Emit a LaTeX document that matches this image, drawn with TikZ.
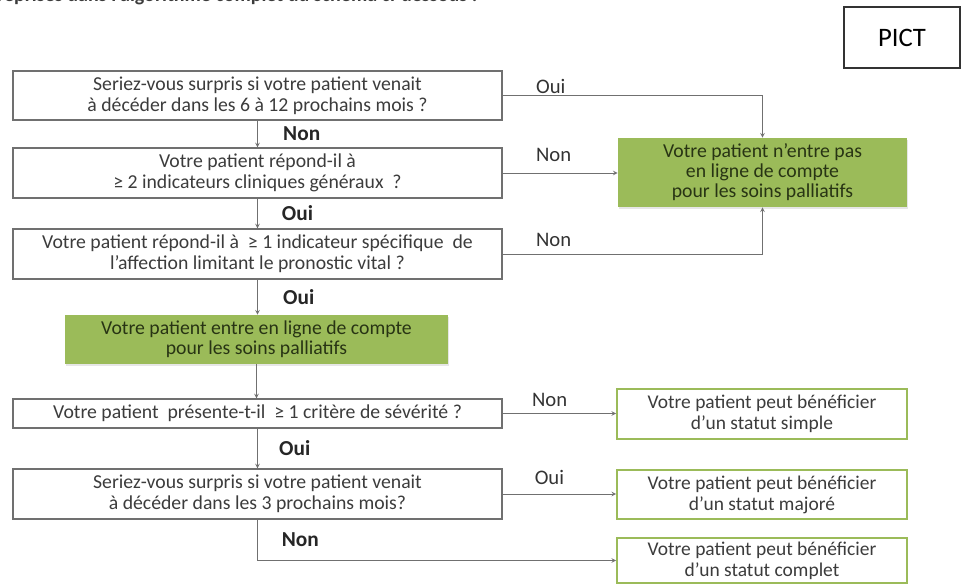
\documentclass[tikz,border=0pt]{standalone}
\usepackage{fontspec}
\setmainfont{Carlito}
\usepackage{tikz}
\usetikzlibrary{arrows,shapes,positioning,shadows}
\definecolor{pcgray}{RGB}{112,112,112}
\definecolor{pcgreen}{RGB}{155,187,89}
\definecolor{pctext}{RGB}{60,60,60}
\definecolor{pcdark}{RGB}{40,52,20}
\tikzstyle{question} = [rectangle, minimum width=366.75pt, minimum height=37.5pt, align=center, draw=pcgray, fill=white, thick, text=pctext, inner sep=0pt, font=\fontsize{14.8}{15.75}\selectfont]
\tikzstyle{verdict} = [rectangle, align=center, fill=pcgreen, text=pcdark, inner sep=0pt, drop shadow={opacity=0.2, shadow xshift=1pt, shadow yshift=-1.5pt}, font=\fontsize{14.8}{15}\selectfont]
\tikzstyle{statut} = [rectangle, minimum width=217.5pt, minimum height=37.5pt, align=center, draw=pcgreen, very thick, fill=white, text=pctext, inner sep=0pt, font=\fontsize{14.6}{15.75}\selectfont]
\tikzstyle{arrow} = [semithick,->,>=stealth,color=pcgray]
\tikzstyle{answer} = [text=black!85, inner sep=1pt, font=\fontsize{16}{18}\selectfont\bfseries]
\tikzstyle{sideanswer} = [text=black!80, inner sep=0pt, font=\fontsize{15.5}{17}\selectfont]

\begin{document}
\begin{tikzpicture}[x=0.75pt, y=-0.75pt]
\useasboundingbox (0,0) rectangle (961,585);

% Cut-off heading and label
\node (heading) [anchor=base east, text=pctext, font=\fontsize{15}{17}\selectfont\bfseries] at (482,2) {reprises dans l’algorithme complet du schéma ci-dessous :};
\node (pict) [draw=black!80, thick, minimum width=87pt, minimum height=45.75pt, font=\fontsize{20}{24}\selectfont] at (902,37.5) {PICT};

% Questions
\node (surpris) [question, minimum height=36.75pt] at (257.5,95.5) {Seriez-vous surpris si votre patient venait\\à décéder dans les 6 à 12 prochains mois ?};
\node (generaux) [question] at (257.5,173) {Votre patient répond-il à\\≥ 2 indicateurs cliniques généraux\ \ ?};
\node (specifique) [question] at (257.5,254) {Votre patient répond-il à\ \ ≥ 1 indicateur spécifique\ \ de\\l’affection limitant le pronostic vital ?};
\node (entre) [verdict, minimum width=287.25pt, minimum height=36.75pt] at (256.5,339.5) {Votre patient entre en ligne de compte\\pour les soins palliatifs};
\node (severite) [question, minimum height=21.75pt] at (257.5,413.5) {Votre patient\ \ présente-t-il\ \ ≥ 1 critère de sévérité ?};
\node (troismois) [question] at (257.5,494) {Seriez-vous surpris si votre patient venait\\à décéder dans les 3 prochains mois?};

% Outcomes
\node (pasentre) [verdict, minimum width=216.75pt, minimum height=51.75pt] at (762.5,172.5) {Votre patient n’entre pas\\en ligne de compte\\pour les soins palliatifs};
\node (simple) [statut] at (762,414) {Votre patient peut bénéficier\\d’un statut simple};
\node (majore) [statut, minimum height=36.75pt] at (762,494.5) {Votre patient peut bénéficier\\d’un statut majoré};
\node (complet) [statut, minimum height=33.75pt] at (762,560.5) {Votre patient peut bénéficier\\d’un statut complet};

% Main column
\draw [arrow] (surpris) -- node[answer, right, xshift=18pt] {Non} (generaux);
\draw [arrow] (generaux) -- node[answer, right, xshift=17pt] {Oui} (specifique);
\draw [arrow] (specifique.south) -- node[answer, right, xshift=18pt] {Oui} (specifique.south |- entre.north);
\draw [arrow] (entre.south) -- (entre.south |- severite.north);
\draw [arrow] (severite) -- node[answer, right, xshift=15pt] {Oui} (troismois);
\draw [arrow] (troismois.south) |- node[answer, right, pos=0.25, xshift=17pt] {Non} (complet.west);

% Side branches
\draw [arrow] (surpris.east) -| (pasentre.north);
\draw [arrow] (generaux.east) -- (generaux.east -| pasentre.west);
\draw [arrow] (specifique.east) -| (pasentre.south);
\draw [arrow] (severite.east) -- (severite.east -| simple.west);
\draw [arrow] (troismois.east) -- (troismois.east -| majore.west);

\node (oui1) [sideanswer, above right=1pt and 25pt of surpris.east] {Oui};
\node (non2) [sideanswer, above right=8pt and 25pt of generaux.east] {Non};
\node (non3) [sideanswer, above right=5pt and 25pt of specifique.east] {Non};
\node (non4) [sideanswer, above right=5pt and 22pt of severite.east] {Non};
\node (oui5) [sideanswer, above right=7pt and 24pt of troismois.east] {Oui};
\end{tikzpicture}
\end{document}
